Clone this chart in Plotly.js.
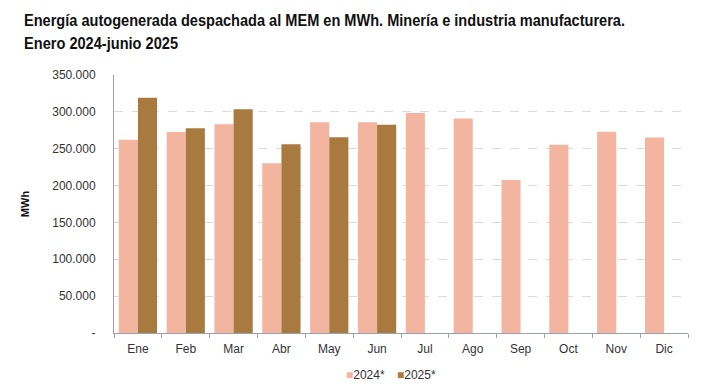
<!DOCTYPE html>
<html><head><meta charset="utf-8">
<script src="https://cdn.plot.ly/plotly-3.0.1.min.js"></script>
<style>body{margin:0;background:#fff}#c{width:708px;height:391px}</style>
</head><body><div id="c"></div>
<script>
const months = ["Ene","Feb","Mar","Abr","May","Jun","Jul","Ago","Sep","Oct","Nov","Dic"];
const v2024 = [262000,272700,283100,230200,285800,286000,298600,291000,207700,255400,273000,265300];
const v2025 = [319200,277700,303400,256000,265500,282400,null,null,null,null,null,null];
const yTicks = [0,50000,100000,150000,200000,250000,300000,350000];
const yTickText = ["-","50.000","100.000","150.000","200.000","250.000","300.000","350.000"];
const titleLines = ["Energía autogenerada despachada al MEM en MWh. Minería e industria manufacturera.","Enero 2024-junio 2025"];
const seriesNames = ["2024*","2025*"];
const seriesColors = ["#F4B5A0","#A87A40"];

const data = [
  {type:"bar", name:seriesNames[0], x:months, y:v2024, marker:{color:seriesColors[0]}},
  {type:"bar", name:seriesNames[1], x:months, y:v2025, marker:{color:seriesColors[1]}}
];
const PT=75, PH=258, PL=114, PW=574;
const px2x = p => (p-PL)/PW;
const py2y = p => 1 + (PT-p)/PH;
const annotations = [
  {text:titleLines[0], xref:"paper", yref:"paper", x:px2x(24), y:py2y(20), xanchor:"left", yanchor:"middle",
   showarrow:false, font:{family:"Liberation Sans, Arial, sans-serif", size:16, weight:"bold", color:"#111"}},
  {text:titleLines[1], xref:"paper", yref:"paper", x:px2x(24), y:py2y(43), xanchor:"left", yanchor:"middle",
   showarrow:false, font:{family:"Liberation Sans, Arial, sans-serif", size:16, weight:"bold", color:"#111"}},
  {text:"<span style='color:"+seriesColors[0]+"'>■</span>"+seriesNames[0], xref:"paper", yref:"paper",
   x:px2x(344), y:py2y(375), xanchor:"left", yanchor:"middle", showarrow:false, font:{size:12, color:"#333"}},
  {text:"<span style='color:"+seriesColors[1]+"'>■</span>"+seriesNames[1], xref:"paper", yref:"paper",
   x:px2x(395), y:py2y(375), xanchor:"left", yanchor:"middle", showarrow:false, font:{size:12, color:"#333"}}
];
const layout = {
  width:708, height:391,
  margin:{l:PL, r:708-PL-PW, t:PT, b:391-PT-PH},
  paper_bgcolor:"#fff", plot_bgcolor:"#fff",
  barmode:"group", bargap:0.2, bargroupgap:0,
  font:{family:"Liberation Sans, Arial, sans-serif", size:12, color:"#333"},
  xaxis:{type:"category", showline:true, linecolor:"#9aa3ad", linewidth:1,
    ticks:"outside", tickson:"boundaries", ticklen:4, tickcolor:"#9aa3ad",
    ticklabelstandoff:5, showgrid:false, tickfont:{size:12, color:"#333"}},
  yaxis:{range:[0,350000], tickvals:yTicks, ticktext:yTickText,
    showline:true, linecolor:"#9aa3ad", linewidth:1, zeroline:false,
    gridcolor:"#dcdcdc", griddash:"dash", ticks:"", ticklabelstandoff:15,
    tickfont:{size:12, color:"#333"},
    title:{text:"<b>MWh</b>", font:{size:11, color:"#111"}, standoff:20}},
  showlegend:false,
  annotations:annotations
};
Plotly.newPlot("c", data, layout, {displayModeBar:false, staticPlot:true}).then(gd => {
  const widths = [601, 154];
  const texts = gd.querySelectorAll(".annotation-text");
  [0,1].forEach(i => {
    const t = texts[i];
    if (!t) return;
    t.setAttribute("textLength", widths[i]);
    t.setAttribute("lengthAdjust", "spacingAndGlyphs");
    const r = t.getBoundingClientRect();
    const x0 = parseFloat(t.getAttribute("x")) || 0;
    t.setAttribute("x", x0 + (24 - r.left));
  });
});
</script></body></html>
